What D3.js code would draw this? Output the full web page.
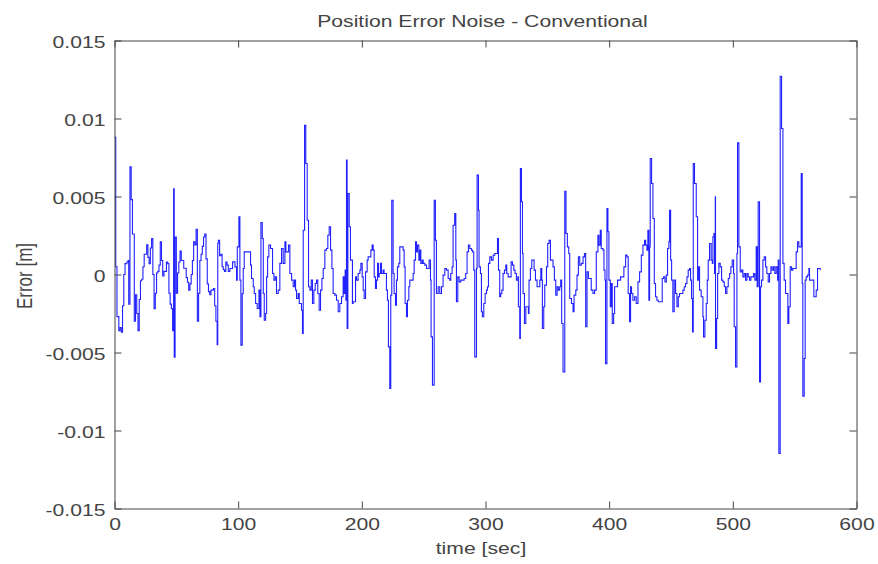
<!DOCTYPE html>
<html>
<head>
<meta charset="utf-8">
<script src="https://cdn.jsdelivr.net/npm/d3@7"></script>
<style>
  html, body { margin: 0; padding: 0; background: #ffffff; }
  svg { display: block; }
  text { font-family: "Liberation Sans", Arial, Helvetica, sans-serif; fill: #444444; }
</style>
</head>
<body>
<svg id="chart" width="878" height="564"></svg>
<script>
// Position error noise samples: time in seconds, error in millimetres
const timeSec = [
  0,1,2,3.5,4.5,5.5,6.5,7.5,8.5,10,
  11,11.5,12.5,13.5,14.5,15.5,16,17,18,19,
  20,21,22,23,24,25,26,27,28,29,
  30,31,32,33,34,35,36,37,38,39,
  40,41,42,43,44,45,46,47,47.8,48.3,
  49,50,51,52,53,54,55,56,57,58,
  59,60,61,62,63,64,65,66,67,68,
  69,70,71,72,73,74,75,76,77,78,
  79,80,81,82,83,83.5,84,85,86,87,
  88,89,90,91,92,
  93.3,95.5,97.4,98.7,99.3,100.6,101.4,102.2,103.3,104.1,
  104.9,106.8,108.7,110.0,110.8,112.2,113.0,114.1,115.4,116.8,
  117.6,118.4,119.5,120.3,121.1,122.2,123.0,123.8,124.8,126.2,
  127.3,127.8,128.9,130.0,131.0,132.4,133.7,135.1,136.4,137.8,
  138.6,139.7,140.7,141.8,143.2,144.5,145.6,146.4,147.2,148.5,
  149.4,150.4,151.2,152.0,152.6,153.7,154.7,155.8,156.9,158.0,
  159.1,160.1,161.2,162.3,163.4,164.4,165.5,166.6,167.7,168.8,
  170.1,171.4,172.5,173.6,174.7,175.8,176.8,178.2,179.5,180.9,
  182.2,183.6,184.9,185.7,186.5,187.1,187.6,188.1,188.7,189.8,
  190.8,191.9,192.4,
  193.0,194.3,194.9,195.7,197.0,198.4,199.2,200.3,201.1,201.9,
  203.0,204.3,205.1,206.5,207.3,208.3,209.2,210.0,211.0,211.8,
  212.7,213.5,214.0,215.1,215.9,217.2,218.0,219.1,219.9,220.7,
  221.5,222.6,223.4,224.2,225.3,226.1,227.2,228.0,228.8,229.9,
  230.7,232.1,233.4,234.2,235.0,236.1,236.9,238.0,238.8,240.1,
  241.5,242.3,243.4,244.2,245.0,246.1,246.9,247.7,248.8,249.6,
  250.9,252.3,253.6,254.4,255.5,256.0,257.1,258.5,259.5,260.3,
  261.7,263.0,264.4,265.7,267.1,268.4,269.8,271.1,271.9,273.0,
  273.8,275.1,276.0,276.5,277.6,278.7,280.0,281.3,282.7,284.0,
  285.1,286.2,287.3,288.6,
  289.5,290.5,291.3,292.7,293.2,294.3,294.8,295.9,296.7,297.5,
  298.6,299.7,300.8,301.6,302.4,303.5,304.8,306.2,307.5,308.8,
  309.7,310.5,311.5,312.3,313.2,314.2,315.3,316.4,317.2,318.3,
  319.6,320.7,321.8,322.9,323.9,325.0,326.1,326.6,327.7,328.2,
  329.1,329.9,330.4,331.5,332.6,333.6,334.7,335.2,336.3,337.4,
  338.5,339.3,340.4,341.7,342.8,343.9,344.7,345.5,346.0,347.1,
  347.9,349.3,350.3,351.4,352.5,353.6,354.6,355.7,356.8,357.9,
  358.9,360.0,360.8,361.6,362.7,364.1,365.1,366.2,367.3,368.1,
  369.5,370.8,371.6,373.0,374.0,375.1,376.2,377.5,378.9,380.0,
  381.0,382.1,383.2,
  384.2,385.5,386.9,388.2,389.6,390.9,391.7,392.8,393.6,395.0,
  395.8,396.6,397.1,398.2,399.0,399.8,400.9,401.7,402.5,403.6,
  404.4,405.7,406.8,407.9,409.2,410.6,411.9,413.3,414.4,415.4,
  416.5,417.3,418.1,419.2,420.6,421.9,423.3,424.6,426.0,427.3,
  428.6,429.5,430.5,431.3,432.1,432.7,433.2,434.3,435.4,436.5,
  437.5,438.6,439.7,440.8,441.8,442.9,444.0,445.1,446.2,447.2,
  448.3,448.8,449.7,450.5,451.5,452.6,453.7,454.8,455.9,456.9,
  458.3,459.6,460.7,461.8,462.9,463.9,465.0,465.8,466.6,467.4,
  468.0,469.0,470.4,471.5,472.3,473.1,474.4,475.8,476.3,477.4,
  478.5,479.3,480.1,
  481.2,482.5,483.4,483.9,484.7,485.2,485.8,486.0,486.9,487.7,
  488.7,489.8,490.9,492.0,493.1,494.1,495.2,496.3,497.4,498.4,
  499.5,500.6,501.1,502.2,503.3,503.8,504.9,506.0,507.1,508.1,
  509.2,510.3,511.4,512.4,513.5,514.6,515.7,516.8,517.8,518.9,
  519.7,520.5,521.6,522.4,523.2,524.3,525.4,526.5,527.5,528.6,
  529.7,530.8,531.8,532.9,534.0,535.1,536.2,536.7,537.2,538.3,
  539.4,540.5,541.5,542.6,543.7,544.5,545.3,546.4,547.5,548.5,
  549.9,551.2,552.3,553.4,554.5,555.3,556.1,556.6,557.7,558.5,
  559.3,560.4,561.5,562.0,563.4,564.7,565.5,566.6,567.4,568.5,
  569.6,570.6
];

const errorMm = [
  8.8,0.5,-2.7,-3.6,-3.4,-3.7,-2.0,0.0,0.7,0.8,
  0.9,-1.9,6.9,4.8,2.6,2.6,-3.0,-1.3,-2.5,-3.6,
  -1.6,-0.4,-0.3,0.5,1.3,1.3,1.9,1.1,0.7,1.7,
  2.3,0.0,-2.2,-1.2,0.1,0.2,0.6,2.1,0.9,-0.1,
  0.2,0.2,0.8,0.7,-1.2,-1.9,-2.2,-3.6,5.5,-5.3,
  2.4,-1.2,0.1,0.8,1.5,0.9,0.9,0.4,0.4,-0.2,
  -0.5,-1.0,-0.6,0.0,0.9,2.1,1.9,2.9,-3.0,-1.2,
  0.9,1.3,1.8,2.4,2.6,1.0,-0.6,-1.1,-1.3,-1.0,
  -1.0,-0.9,-2.0,-3.0,-4.5,2.0,2.2,1.2,1.3,0.5,
  0.3,0.2,0.8,0.6,0.2,
  0.38,0.81,0.49,-0.36,1.77,3.70,-0.36,-4.53,-1.22,0.38,
  1.45,1.45,1.45,0.60,-0.26,-0.79,-1.22,-1.86,-2.18,-1.00,
  -2.71,3.33,2.31,-1.22,-2.93,-2.50,-0.15,1.13,1.88,1.67,
  1.67,0.06,-0.36,-0.15,-1.22,-1.00,0.71,1.67,0.71,2.09,
  1.45,1.45,1.88,0.06,-0.36,-0.79,-0.36,-1.00,-1.54,-1.22,
  -1.86,-1.86,-2.29,-3.78,2.84,9.57,7.12,3.48,-0.79,-1.00,
  -0.36,-1.86,-1.00,-0.58,-0.36,-1.22,-2.29,-1.00,-0.26,0.38,
  1.56,1.67,2.52,3.06,1.56,0.38,-1.22,-1.32,-1.65,-2.39,
  -1.86,-1.43,-0.15,-1.22,0.28,-1.65,7.33,-3.46,5.19,3.06,
  0.92,0.92,-1.86,
  -1.75,-1.75,-0.15,-0.36,0.06,0.28,0.71,-0.15,-1.00,-1.54,
  0.17,0.92,1.13,1.13,1.56,1.88,1.56,-0.15,-0.90,-0.36,
  0.71,-0.15,0.06,0.71,0.06,0.28,0.06,0.06,-1.00,-1.65,
  -4.64,-7.31,-1.32,4.76,0.06,-1.22,-1.97,-0.36,0.49,0.71,
  1.77,1.77,1.56,0.49,-1.86,-2.71,-1.65,-0.79,-0.36,-0.36,
  0.06,0.92,2.09,1.45,1.88,0.92,1.56,0.71,0.92,0.71,
  0.60,0.38,0.38,0.92,-0.36,-4.00,-7.09,4.76,2.20,-1.22,
  -0.79,-1.22,-0.79,-0.04,0.38,0.28,-0.26,-0.36,0.06,0.49,
  3.16,3.91,0.92,-1.75,-0.15,-0.47,-0.36,-0.36,-0.26,0.06,
  1.45,1.88,1.67,1.56,
  1.45,0.28,-5.28,0.38,6.37,4.12,0.49,0.06,-2.39,-2.71,
  -1.86,-1.22,-1.00,-0.79,0.71,1.13,0.92,1.24,1.35,1.35,
  2.31,0.28,-1.43,-1.22,-1.00,0.06,0.28,0.60,0.06,-0.15,
  -0.15,0.81,0.60,0.28,0.06,-0.36,-0.15,-2.07,-4.10,6.79,
  4.66,1.35,-1.22,-3.14,-2.07,-2.07,-2.50,-0.36,0.38,0.92,
  0.92,0.28,-0.36,-0.79,-0.79,-0.36,0.38,-0.36,-3.46,-2.07,
  -0.68,0.49,1.99,2.20,0.92,0.92,0.49,-0.36,-1.32,-0.79,
  -1.00,-0.79,-0.36,-3.14,-6.24,5.34,2.63,1.77,1.35,-1.54,
  -1.86,-2.39,-1.32,-1.00,-0.04,1.13,0.60,0.71,1.13,1.35,
  -3.35,0.17,-0.26,
  -0.26,-1.00,-1.22,-1.00,1.45,2.52,1.88,2.84,1.67,1.56,
  0.28,-0.36,-5.71,4.23,2.74,-0.36,-2.07,-0.58,-3.14,-2.50,
  -0.79,-0.79,-0.36,-0.36,-0.15,-0.15,0.49,1.24,1.13,-1.22,
  -3.03,-0.79,-1.22,-1.65,-1.43,-1.86,-0.47,0.17,1.24,1.88,
  2.20,1.88,1.56,2.84,-1.65,1.77,7.44,5.83,3.59,-0.58,
  -1.43,-1.65,-1.75,-1.75,-1.75,-0.26,-0.15,-0.47,-0.04,1.67,
  2.09,4.12,0.92,-0.36,-2.39,-0.36,-1.22,-2.07,-1.43,-1.22,
  -1.22,-1.00,-0.79,-0.58,-0.15,0.28,0.38,-0.36,-1.54,-3.68,
  7.12,5.83,3.70,-0.36,0.49,-1.00,-1.43,-2.71,-4.00,-2.93,
  -1.86,-0.36,0.92,
  1.99,0.92,0.71,2.41,2.63,0.06,4.98,-4.74,-2.82,0.06,
  0.71,0.49,-0.36,-0.47,-0.79,-1.22,-0.79,-0.26,0.06,0.49,
  0.92,0.06,-3.35,-5.92,1.35,8.44,1.77,0.17,0.28,-0.15,
  0.06,-0.36,0.06,-0.15,-0.36,-0.15,-0.15,0.06,-0.36,1.77,
  -0.79,4.66,-6.88,-0.79,-0.36,0.92,1.13,0.49,0.06,-0.47,
  0.06,0.49,0.28,0.49,0.06,0.49,-0.36,0.92,-11.47,12.71,
  9.36,0.71,-0.36,-1.22,-1.22,-3.14,-2.07,0.49,0.28,0.38,
  0.38,1.45,2.09,1.77,1.77,6.47,-0.58,-7.80,-5.38,-0.36,
  -0.15,-0.04,0.38,-0.36,-0.36,-0.36,-1.43,-1.43,-1.00,0.38,
  0.38,0.28
];

const xTicks = [0, 100, 200, 300, 400, 500, 600];
const xTickLabels = ["0", "100", "200", "300", "400", "500", "600"];
const yTicks = [-0.015, -0.01, -0.005, 0, 0.005, 0.01, 0.015];
const yTickLabels = ["-0.015", "-0.01", "-0.005", "0", "0.005", "0.01", "0.015"];

const titleText = "Position Error Noise - Conventional";
const xLabelText = "time [sec]";
const yLabelText = "Error [m]";

// ---- layout ----
const W = 878, H = 564;
const plot = { left: 114.5, right: 856.5, top: 40.5, bottom: 508.5 };
const stretch = 1.245;     // horizontal text stretch of the figure
const fontSize = 17;
const tickLen = 7;
const axisColor = "#444444";
const textColor = "#444444";

const svg = d3.select("#chart");
svg.append("rect").attr("width", W).attr("height", H).attr("fill", "#ffffff");

const x = d3.scaleLinear().domain([0, 600]).range([plot.left, plot.right]);
const y = d3.scaleLinear().domain([-0.015, 0.015]).range([plot.bottom, plot.top]);

const samples = timeSec.map((t, i) => ({ t, e: errorMm[i] / 1000 }));

// ---- signal (sample-and-hold trace) ----
const line = d3.line().curve(d3.curveStepAfter).x(d => x(d.t)).y(d => y(d.e));
svg.append("path")
  .datum(samples)
  .attr("fill", "none")
  .attr("stroke", "#2222ff")
  .attr("stroke-width", 1.1)
  .attr("d", line);

// ---- axes (ticks point inward on all four sides) ----
function styleAxis(g) {
  g.selectAll(".domain").attr("stroke", axisColor).attr("stroke-width", 1);
  g.selectAll(".tick line").attr("stroke", axisColor).attr("stroke-width", 1);
  g.selectAll("text")
    .attr("font-family", '"Liberation Sans", Arial, sans-serif')
    .attr("font-size", fontSize)
    .attr("fill", textColor);
}

const xBottom = svg.append("g")
  .attr("transform", `translate(0,${plot.bottom})`)
  .call(d3.axisBottom(x).tickValues(xTicks)
    .tickFormat((d, i) => xTickLabels[i])
    .tickSizeInner(-tickLen).tickSizeOuter(0).tickPadding(8));
styleAxis(xBottom);
xBottom.selectAll(".tick text")
  .attr("y", null).attr("dy", null)
  .attr("transform", `translate(0,21) scale(${stretch},1)`);

const xTop = svg.append("g")
  .attr("transform", `translate(0,${plot.top})`)
  .call(d3.axisTop(x).tickValues(xTicks).tickFormat("")
    .tickSizeInner(-tickLen).tickSizeOuter(0));
styleAxis(xTop);

const yLeft = svg.append("g")
  .attr("transform", `translate(${plot.left},0)`)
  .call(d3.axisLeft(y).tickValues(yTicks)
    .tickFormat((d, i) => yTickLabels[i])
    .tickSizeInner(-tickLen).tickSizeOuter(0).tickPadding(8));
styleAxis(yLeft);
yLeft.selectAll(".tick text")
  .attr("x", null).attr("dy", null)
  .attr("text-anchor", "end")
  .attr("transform", `translate(-9,6.5) scale(${stretch},1)`);

const yRight = svg.append("g")
  .attr("transform", `translate(${plot.right},0)`)
  .call(d3.axisRight(y).tickValues(yTicks).tickFormat("")
    .tickSizeInner(-tickLen).tickSizeOuter(0));
styleAxis(yRight);

// ---- title and axis labels ----
svg.append("text")
  .attr("transform", `translate(482.4,26.7) scale(${stretch},1)`)
  .attr("text-anchor", "middle")
  .attr("font-size", fontSize)
  .text(titleText);

svg.append("text")
  .attr("transform", `translate(481,554) scale(${stretch},1)`)
  .attr("text-anchor", "middle")
  .attr("font-size", fontSize)
  .text(xLabelText);

svg.append("text")
  .attr("transform", `translate(32,276) scale(${stretch},1) rotate(-90)`)
  .attr("text-anchor", "middle")
  .attr("font-size", fontSize)
  .text(yLabelText);
</script>
</body>
</html>
